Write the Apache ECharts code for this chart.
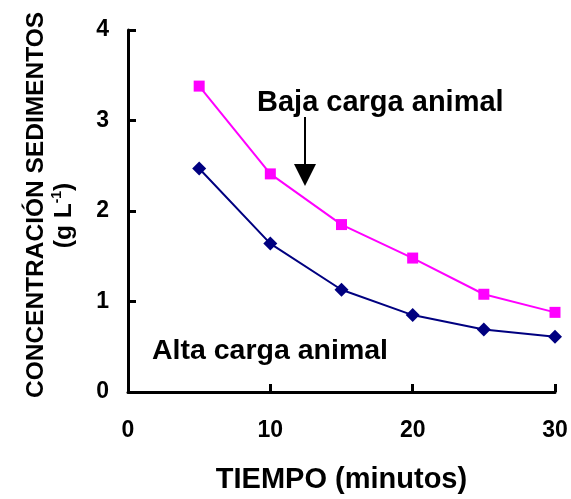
<!DOCTYPE html>
<html>
<head>
<meta charset="utf-8">
<script src="https://cdn.jsdelivr.net/npm/echarts@6/dist/echarts.min.js"></script>
<style>html,body{margin:0;padding:0;background:#fff;}#c{width:571px;height:499px;}</style>
</head>
<body>
<div id="c"></div>
<script>
const tiempo = [5, 10, 15, 20, 25, 30];
const bajaCarga = [3.38, 2.41, 1.85, 1.48, 1.08, 0.88];
const altaCarga = [2.47, 1.64, 1.13, 0.85, 0.69, 0.61];
const xTicks = [0, 10, 20, 30];
const yTicks = [0, 1, 2, 3, 4];

const FF = '"Liberation Sans", Arial, sans-serif';
const chart = echarts.init(document.getElementById('c'), null, {renderer: 'canvas'});
const axisCommon = {
  type: 'value',
  axisLine: {show: true, lineStyle: {color: '#000', width: 3}},
  axisTick: {show: true, inside: true, length: 8, lineStyle: {color: '#000', width: 3}},
  splitLine: {show: false},
  axisLabel: {color: '#000', fontFamily: FF, fontWeight: 'bold', fontSize: 23}
};
const nameBase = {fontFamily: FF, fontWeight: 'bold', fontSize: 24.5, color: '#000', lineHeight: 28};
chart.setOption({
  animation: false,
  backgroundColor: '#fff',
  grid: {left: 128, right: 16, top: 30, bottom: 106, containLabel: false},
  xAxis: Object.assign({}, axisCommon, {
    min: xTicks[0], max: xTicks[xTicks.length - 1], interval: 10,
    name: 'TIEMPO (minutos)', nameLocation: 'middle', nameGap: 73,
    nameTextStyle: {color: '#000', fontFamily: FF, fontWeight: 'bold', fontSize: 29},
    axisLabel: Object.assign({}, axisCommon.axisLabel, {margin: 27})
  }),
  yAxis: Object.assign({}, axisCommon, {
    min: yTicks[0], max: yTicks[yTicks.length - 1], interval: 1,
    name: '{t|CONCENTRACIÓN SEDIMENTOS}\n{p|(g L}{sup|-1}{p2|)}', nameLocation: 'middle', nameGap: 50,
    nameRotate: 90,
    nameTextStyle: Object.assign({}, nameBase, {
      rich: {
        t: Object.assign({}, nameBase, {padding: [0, 0, 0, 12]}),
        p: Object.assign({}, nameBase),
        p2: Object.assign({}, nameBase, {padding: [0, 9, 0, 0]}),
        sup: {fontFamily: FF, fontWeight: 'bold', fontSize: 14, color: '#000', verticalAlign: 'top', lineHeight: 28, padding: [0, 0, 10, 0]}
      }
    }),
    axisLabel: Object.assign({}, axisCommon.axisLabel, {margin: 19})
  }),
  series: [
    {
      name: 'Baja carga animal', type: 'line',
      data: tiempo.map((t, i) => [t, bajaCarga[i]]),
      symbol: 'rect', symbolSize: 11,
      lineStyle: {color: '#FF00FF', width: 2},
      itemStyle: {color: '#FF00FF'}
    },
    {
      name: 'Alta carga animal', type: 'line',
      data: tiempo.map((t, i) => [t, altaCarga[i]]),
      symbol: 'diamond', symbolSize: 14,
      lineStyle: {color: '#000080', width: 2},
      itemStyle: {color: '#000080'}
    }
  ],
  graphic: [
    {type: 'text', left: 257, top: 88, style: {text: 'Baja carga animal', fill: '#000', font: 'bold 29px ' + FF}},
    {type: 'text', left: 152, top: 337, style: {text: 'Alta carga animal', fill: '#000', font: 'bold 28.5px ' + FF}},
    {type: 'line', shape: {x1: 305, y1: 117, x2: 305, y2: 166}, style: {stroke: '#000', lineWidth: 2}},
    {type: 'polygon', shape: {points: [[294, 164], [316, 164], [305, 186]]}, style: {fill: '#000'}}
  ]
});
</script>
</body>
</html>
